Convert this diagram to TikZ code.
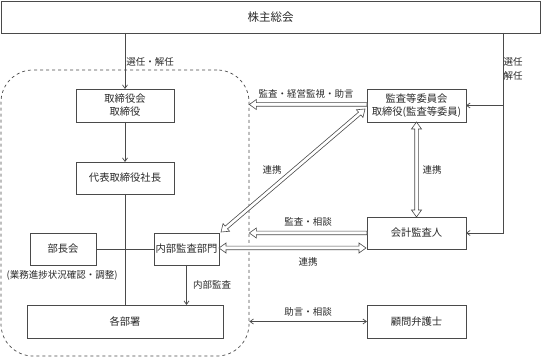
\documentclass[tikz,border=0pt]{standalone}
\usepackage{fontspec}
\setmainfont{Noto Sans CJK JP}
\usetikzlibrary{arrows.meta,calc}
\definecolor{ln}{HTML}{4A4A4A}
\definecolor{tx}{HTML}{2A2A2A}
\tikzset{
 box/.style={draw=ln, line width=0.8pt, fill=white, text=tx, font=\fontsize{10.3}{13}\selectfont, align=center, inner sep=0pt, outer sep=0pt},
 lbl/.style={text=tx, font=\fontsize{9.5}{12}\selectfont, inner sep=0pt},
 conn/.style={draw=ln, line width=0.7pt},
 arr/.style={conn, -{Straight Barb[length=3.5pt,width=5pt]}},
 darr/.style={conn, {Straight Barb[length=3.5pt,width=5pt]}-{Straight Barb[length=3.5pt,width=5pt]}},
 barr/.style={draw=ln, line width=0.6pt, fill=white, line join=miter},
 grpbox/.style={draw=ln, dash pattern=on 3pt off 3pt, line width=0.7pt, rounded corners=32pt, inner sep=0pt}
}
\newcommand{\blkone}[2]{%
 \coordinate (baA) at (#1); \coordinate (baB) at (#2);
 \coordinate (baH) at ($(baB)!7pt!(baA)$);
 \path[barr] ($(baA)!1.8pt!90:(baB)$) -- ($(baH)!1.8pt!90:(baB)$) -- ($(baH)!5pt!90:(baB)$) -- (baB)
   -- ($(baH)!5pt!-90:(baB)$) -- ($(baH)!1.8pt!-90:(baB)$) -- ($(baA)!1.8pt!-90:(baB)$) -- cycle;}
\newcommand{\blktwo}[2]{%
 \coordinate (baA) at (#1); \coordinate (baB) at (#2);
 \coordinate (baH) at ($(baA)!7pt!(baB)$);
 \coordinate (baG) at ($(baB)!7pt!(baA)$);
 \path[barr] (baA) -- ($(baH)!5pt!90:(baB)$) -- ($(baH)!1.8pt!90:(baB)$) -- ($(baG)!1.8pt!90:(baB)$)
   -- ($(baG)!5pt!90:(baB)$) -- (baB) -- ($(baG)!5pt!-90:(baB)$) -- ($(baG)!1.8pt!-90:(baB)$)
   -- ($(baH)!1.8pt!-90:(baB)$) -- ($(baH)!5pt!-90:(baB)$) -- cycle;}
\begin{document}
\begin{tikzpicture}[x=1pt,y=-1pt]
\useasboundingbox (0,0) rectangle (541,358);
% dashed group
\node[grpbox, minimum width=248pt, minimum height=286pt] (grp) at (125,213) {};
% boxes
\node[box, minimum width=539pt, minimum height=32pt, font=\fontsize{11.5}{13}\selectfont] (kabu) at (270.5,17) {株主総会};
\node[box, minimum width=98pt, minimum height=33pt] (tori) at (125,105.5) {取締役会\\取締役};
\node[box, minimum width=98pt, minimum height=32pt] (daihyo) at (125,178) {代表取締役社長};
\node[box, minimum width=66pt, minimum height=32pt] (bucho) at (63,249) {部長会};
\node[box, minimum width=65pt, minimum height=32pt] (naibu) at (186.5,249) {内部監査部門};
\node[box, minimum width=196pt, minimum height=33pt] (kakubu) at (125,321.5) {各部署};
\node[box, minimum width=99pt, minimum height=33pt] (kansa) at (416.5,105.5) {監査等委員会\\取締役(監査等委員)};
\node[box, minimum width=99pt, minimum height=32pt] (kaikei) at (416.5,233) {会計監査人};
\node[box, minimum width=99pt, minimum height=33pt] (komon) at (416.5,321.5) {顧問弁護士};
% plain connectors
\draw[arr] (kabu.south -| tori.north) -- (tori.north);
\draw[arr] (tori.south) -- (daihyo.north);
\draw[conn] (daihyo.south) -- (daihyo.south |- kakubu.north);
\draw[conn] (bucho.east) -- (naibu.west);
\draw[arr] (naibu.south) -- (naibu.south |- kakubu.north);
\coordinate (rtop) at (503,33);
\draw[arr] (rtop) |- (kaikei.east);
\draw[arr] (rtop |- kansa.east) -- (kansa.east);
\draw[darr] (grp.east |- komon.west) -- (komon.west);
% block arrows
\coordinate (k1) at ($(kansa.west)+(0,-1)$);
\blkone{k1}{grp.east |- k1}
\blktwo{$(naibu.north east)+(2,-1)$}{$(kansa.west)+(-2,3.5)$}
\blktwo{kansa.south}{kaikei.north}
\blkone{kaikei.west}{grp.east |- kaikei.west}
\coordinate (r1) at ($(naibu.east)+(0,-1)$);
\blktwo{r1}{$(kaikei.south west)+(-1,-1)$}
% labels
\node[lbl] (l1) at (150,62) {選任・解任};
\node[lbl] (l2) at (513,62) {選任};
\node[lbl] (l3) at (513,76) {解任};
\node[lbl] (l4) at (306,94) {監査・経営監視・助言};
\node[lbl] (l5) at (272,170) {連携};
\node[lbl] (l6) at (432,170) {連携};
\node[lbl] (l7) at (308,222) {監査・相談};
\node[lbl] (l8) at (308,262) {連携};
\node[lbl] (l9) at (308,312) {助言・相談};
\node[lbl] (l10) at (212,285) {内部監査};
\node[lbl] (l11) at (62,275) {(業務進捗状況確認・調整)};
\end{tikzpicture}
\end{document}
